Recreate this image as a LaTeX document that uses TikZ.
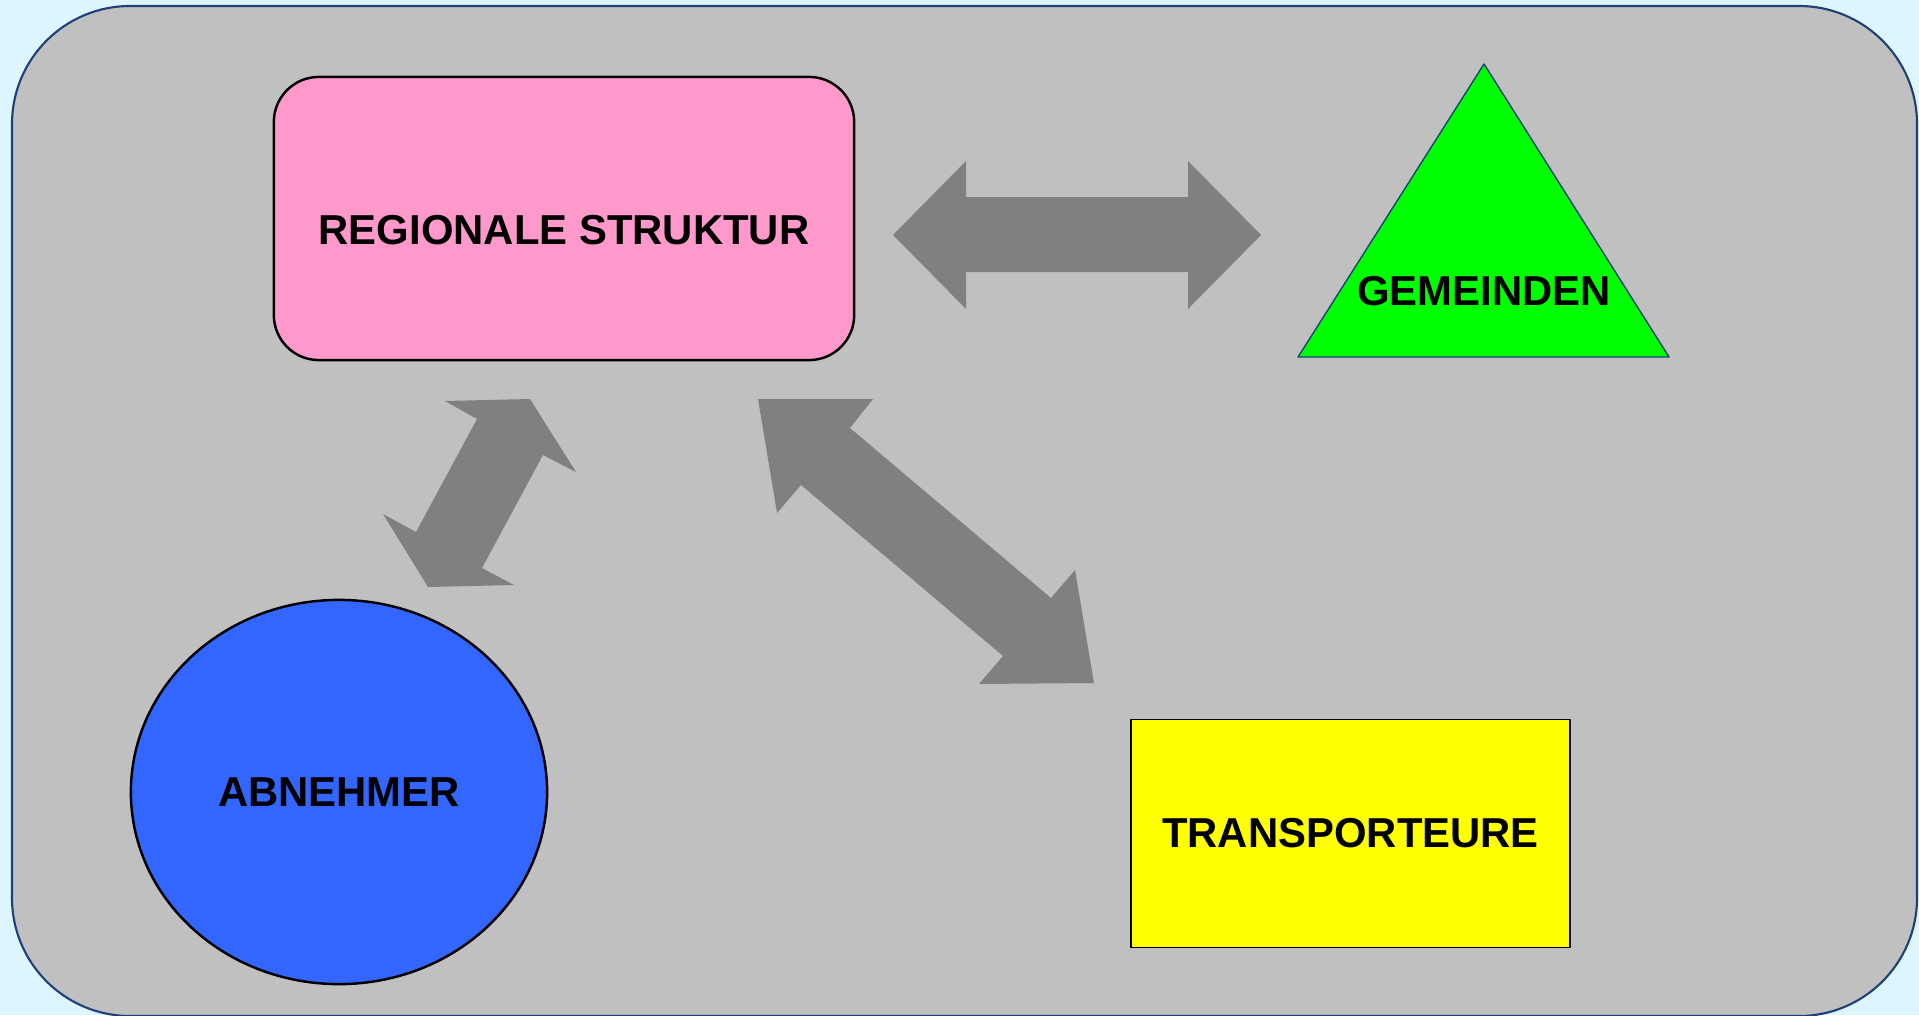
\documentclass[tikz,border=0pt]{standalone}
\usepackage{fontspec}
\setmainfont{Liberation Sans}
\usetikzlibrary{shapes.geometric}
\definecolor{hintergrund}{HTML}{DDF5FF}
\definecolor{rahmen}{HTML}{1F3F7A}
\definecolor{flaeche}{HTML}{C0C0C0}
\definecolor{pfeilgrau}{HTML}{808080}
\definecolor{rosa}{HTML}{FF99CC}
\definecolor{gruen}{HTML}{00FF00}
\definecolor{gelb}{HTML}{FFFF00}
\definecolor{blau}{HTML}{3366FF}
\begin{document}
\begin{tikzpicture}[x=0.01cm, y=-0.01cm, line join=round,
	font=\fontsize{11.9}{14}\selectfont\bfseries,
	pfeil/.style={fill=pfeilgrau},
	regbox/.style={draw=black, line width=0.7pt, fill=rosa, rounded corners=0.45cm,
		minimum width=5.8cm, minimum height=2.83cm, inner sep=0pt},
	transbox/.style={draw=black, line width=0.5pt, fill=gelb,
		minimum width=4.39cm, minimum height=2.28cm, inner sep=0pt},
	abnbox/.style={ellipse, draw=black, line width=0.7pt, fill=blau,
		minimum width=4.16cm, minimum height=3.84cm, inner sep=0pt}]
	\useasboundingbox (0,0) rectangle (1919,1015);
	\fill[hintergrund] (0,0) rectangle (1919,1015);
	\draw[rahmen, line width=0.6pt, fill=flaeche, rounded corners=1.18cm] (12,6) rectangle (1917,1016);
	% Knoten
	\node[regbox] (regio) at (564,218.5) {};
	\node (regiotext) at (564,230) {REGIONALE STRUKTUR};
	\draw[rahmen, line width=0.4pt, fill=gruen] (1298,357) -- (1484,64) -- (1669,357) -- cycle;
	\node (gemeinden) at (1484,291) {GEMEINDEN};
	\node[abnbox] (abnehmer) at (339,792) {ABNEHMER};
	\node[transbox] (trans) at (1350.5,833.5) {TRANSPORTEURE};
	% Blockpfeile
	\fill[pfeil] (893,235) -- (966,161) -- (966,197) -- (1188,197) -- (1188,161) -- (1261,235)
		-- (1188,309) -- (1188,272) -- (966,272) -- (966,309) -- cycle;
	\fill[pfeil] (445,401) -- (530,399) -- (576,472) -- (543,455) -- (482,568) -- (514,585)
		-- (428,587) -- (383,514) -- (416,532) -- (477,419) -- cycle;
	\fill[pfeil] (758,399) -- (873,399) -- (850,428) -- (1051,598) -- (1075,570) -- (1094,683)
		-- (979,684) -- (1003,656) -- (801,485) -- (777,513) -- cycle;
\end{tikzpicture}
\end{document}
